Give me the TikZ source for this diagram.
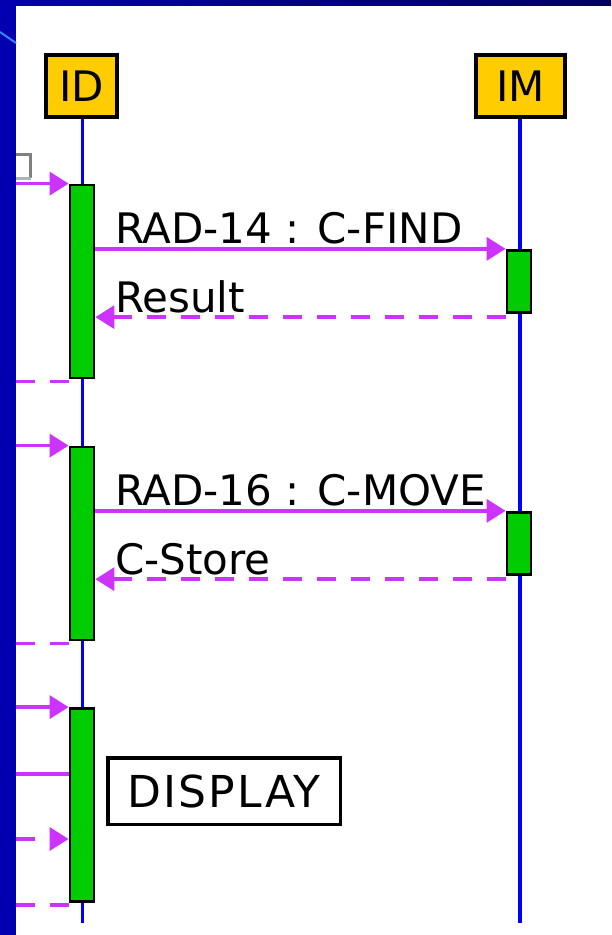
\documentclass[tikz,border=0pt]{standalone}
\usepackage{fontspec}
\setmainfont{DejaVu Sans}
\usepackage{tikz}
\usetikzlibrary{arrows.meta}

\definecolor{slideblue}{RGB}{0,0,176}
\definecolor{slidenavy}{RGB}{0,0,88}
\definecolor{slideline}{RGB}{60,130,255}
\definecolor{headfill}{RGB}{255,204,0}
\definecolor{barfill}{RGB}{0,204,0}
\definecolor{msgcol}{RGB}{204,51,255}
\definecolor{lifecol}{RGB}{0,0,255}

\begin{document}
\begin{tikzpicture}[x=1pt,y=-1pt,
  headbox/.style={draw, line width=3.7pt, fill=headfill, inner sep=0pt, minimum height=62.3pt, font=\fontsize{42}{42}\selectfont},
  actbar/.style={draw, line width=2.8pt, fill=barfill, inner sep=0pt, minimum width=24pt, minimum height=193pt},
  actshort/.style={actbar, minimum height=62.5pt},
  lifeline/.style={lifecol, line width=3.6pt},
  sendline/.style={msgcol, line width=3.5pt},
  backline/.style={sendline, dash pattern=on 19pt off 15pt},
  callmsg/.style={sendline, -{Triangle[length=19pt,width=23pt]}},
  replymsg/.style={backline, -{Triangle[length=19pt,width=23pt]}},
  msglabel/.style={black, inner sep=0pt, anchor=base west, xshift=18pt, yshift=5pt, font=\fontsize{42}{42}\selectfont}]

\useasboundingbox (0,0) rectangle (611,935);
\fill[white] (0,0) rectangle (611,935);
\shade[left color=slideblue, right color=slidenavy] (0,0) rectangle (611,5);
\fill[slideblue] (0,0) rectangle (16,935);
\draw[slideline, line width=2pt] (0,32) -- (16,43);
\draw[gray, line width=3pt] (16,154.5) -| (30.5,178);
\draw[gray!60, line width=3pt] (30.5,178) -- (16,178);

\coordinate (edge) at (16,0);
\coordinate (IDend) at (82.5,923);
\coordinate (IMend) at (520,923);

\node[headbox, minimum width=71.3pt] (ID) at (81.5,86) {ID};
\node[headbox, minimum width=89.3pt] (IM) at (520.5,86) {IM};

\draw[lifeline] (IDend |- ID.south) -- (IDend);
\draw[lifeline] (IMend |- IM.south) -- (IMend);

\node[actbar] (idA) at (82,281.5) {};
\node[actbar] (idB) at (82,543.5) {};
\node[actbar] (idC) at (82,805) {};
\node[actshort] (imA) at (519,281.5) {};
\node[actshort] (imB) at (519,543.5) {};

\coordinate (inC) at (16,774);
\coordinate (inD) at (16,839);

\draw[callmsg] (edge |- idA.north) -- (idA.north west);
\draw[callmsg] (idA.east |- imA.north) -- node[msglabel, pos=0] (lFind) {RAD-14 : C-FIND} (imA.north west);
\draw[replymsg] ([yshift=-3pt]imA.south west) -- node[msglabel, pos=1] (lResult) {Result} ([yshift=-3pt]imA.south west -| idA.east);
\draw[backline] ([yshift=-2pt]idA.south west) -- ([yshift=-2pt]edge |- idA.south);

\draw[callmsg] (edge |- idB.north) -- (idB.north west);
\draw[callmsg] (idB.east |- imB.north) -- node[msglabel, pos=0] (lMove) {RAD-16 : C-MOVE} (imB.north west);
\draw[replymsg] ([yshift=-3pt]imB.south west) -- node[msglabel, pos=1] (lStore) {C-Store} ([yshift=-3pt]imB.south west -| idB.east);
\draw[backline] ([yshift=-2pt]idB.south west) -- ([yshift=-2pt]edge |- idB.south);

\draw[callmsg] (edge |- idC.north) -- (idC.north west);
\draw[sendline] (inC) -- (inC -| idC.west);
\draw[replymsg] (inD) -- (inD -| idC.west);
\draw[backline] ([yshift=-2pt]idC.south west) -- ([yshift=-2pt]edge |- idC.south);

\node[draw, line width=3.5pt, inner sep=0pt, minimum width=232.5pt, minimum height=66.5pt, font=\fontsize{44}{44}\selectfont\addfontfeatures{LetterSpace=5}] (disp) at (224,791) {DISPLAY};

\end{tikzpicture}
\end{document}
